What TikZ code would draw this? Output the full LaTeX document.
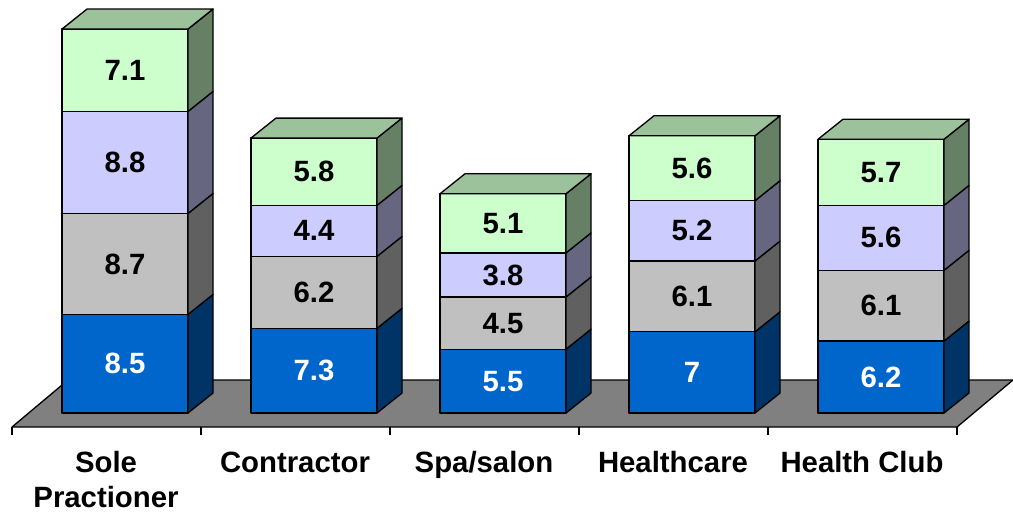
\documentclass[tikz,border=0pt]{standalone}
\usepackage{fontspec}
\setmainfont{Liberation Sans}
\usetikzlibrary{calc}
\definecolor{blueF}{HTML}{0066CC}
\definecolor{blueS}{HTML}{003366}
\definecolor{greyF}{HTML}{C0C0C0}
\definecolor{greyS}{HTML}{606060}
\definecolor{lavF}{HTML}{CCCCFF}
\definecolor{lavS}{HTML}{666680}
\definecolor{grnF}{HTML}{CCFFCC}
\definecolor{grnS}{HTML}{668066}
\definecolor{grnT}{HTML}{9CC29C}
\definecolor{floorC}{HTML}{808080}
% one block of a stacked bar: left x, bottom y, top y, front colour, side colour
\newcommand{\barseg}[5]{%
  \pgfmathsetmacro\xr{#1+126}
  \fill[#4] (#1,#2) rectangle (\xr,#3);
  \draw (#1,#2) rectangle (\xr,#3);
  \filldraw[fill=#5] (\xr,#2) -- ++(25,-20) -- ($(\xr,#3)+(25,-20)$) -- (\xr,#3) -- cycle;
}
\begin{document}
\begin{tikzpicture}[x=0.75pt, y=-0.75pt, line width=1pt, line join=round,
    val/.style={font=\bfseries\fontsize{22}{22}\selectfont, inner sep=0pt},
    cat/.style={font=\bfseries\fontsize{22}{26}\selectfont, inner sep=0pt, align=center, anchor=base}]
  \useasboundingbox (0,0) rectangle (1013,512);

  % floor and axis
  \coordinate (f1) at (12,427);
  \coordinate (f2) at (957,427);
  \coordinate (f3) at (1013,380);
  \coordinate (f4) at (68,380);
  \filldraw[fill=floorC] (f1) -- (f2) -- (f3) -- (f4) -- cycle;
  \foreach \k in {0,...,5}
    \draw (12+189*\k,427) -- (12+189*\k,435);

  % stacked bars
  \foreach \a/\b/\c/\d [count=\i] in {8.5/8.7/8.8/7.1, 7.3/6.2/4.4/5.8, 5.5/4.5/3.8/5.1, 7/6.1/5.2/5.6, 6.2/6.1/5.6/5.7} {
    \pgfmathsetmacro\xl{62+189*(\i-1)}
    \pgfmathsetmacro\xm{\xl+63}
    \pgfmathsetmacro\ya{413-11.6*\a}
    \pgfmathsetmacro\yb{\ya-11.6*\b}
    \pgfmathsetmacro\yc{\yb-11.6*\c}
    \pgfmathsetmacro\yd{\yc-11.6*\d}
    \barseg{\xl}{413}{\ya}{blueF}{blueS}
    \barseg{\xl}{\ya}{\yb}{greyF}{greyS}
    \barseg{\xl}{\yb}{\yc}{lavF}{lavS}
    \barseg{\xl}{\yc}{\yd}{grnF}{grnS}
    \filldraw[fill=grnT] (\xl,\yd) -- ++(126,0) -- ++(25,-20) -- ++(-126,0) -- cycle;
    \node[val, white] (v\i a) at (\xm,{(413+\ya)/2}) {\a};
    \node[val] (v\i b) at (\xm,{(\ya+\yb)/2}) {\b};
    \node[val] (v\i c) at (\xm,{(\yb+\yc)/2}) {\c};
    \node[val] (v\i d) at (\xm,{(\yc+\yd)/2}) {\d};
  }

  % category labels
  \node[cat] (c1) at (106,507) {Sole\\Practioner};
  \node[cat] (c2) at (295,472) {Contractor};
  \node[cat] (c3) at (484,472) {Spa/salon};
  \node[cat] (c4) at (673,472) {Healthcare};
  \node[cat] (c5) at (862,472) {Health Club};
\end{tikzpicture}
\end{document}
